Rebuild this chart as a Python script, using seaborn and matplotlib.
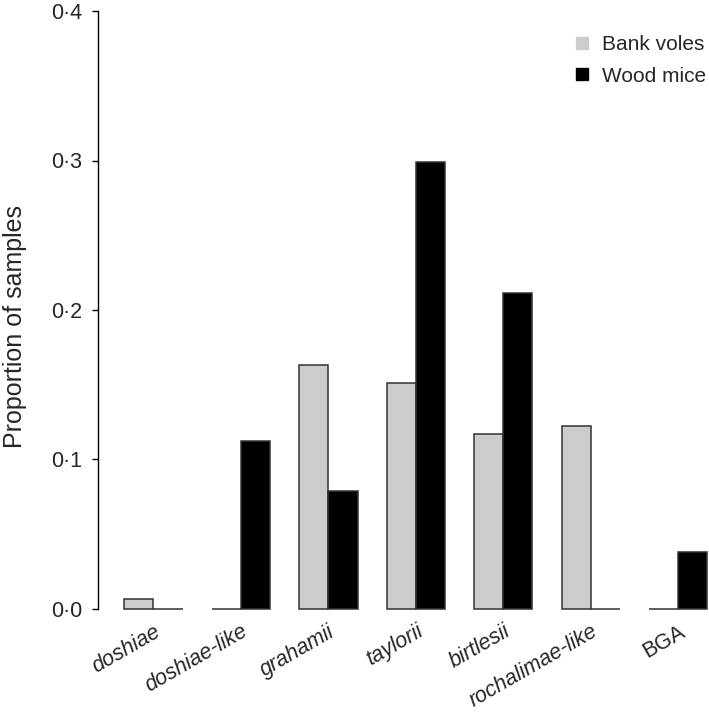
import pandas as pd
import seaborn as sns
import matplotlib.pyplot as plt
from matplotlib.lines import Line2D

species = ['doshiae', 'doshiae-like', 'grahamii', 'taylorii', 'birtlesii', 'rochalimae-like', 'BGA']
bank_voles = [0.0065, 0.0, 0.163, 0.151, 0.117, 0.1225, 0.0]
wood_mice = [0.0, 0.112, 0.079, 0.299, 0.211, 0.0, 0.038]
hosts = ['Bank voles', 'Wood mice']
colors = {'Bank voles': '#cccccc', 'Wood mice': '#000000'}
yticks = [0.0, 0.1, 0.2, 0.3, 0.4]

df = pd.DataFrame({
    'species': species * 2,
    'host': [hosts[0]] * len(species) + [hosts[1]] * len(species),
    'prop': bank_voles + wood_mice,
})

sns.set_style('white')
plt.rcParams['font.family'] = ['Liberation Sans', 'DejaVu Sans']

fig = plt.figure(figsize=(7.09, 7.22), dpi=100)
ax = fig.add_axes([98 / 709, (722 - 608.7) / 722, 610 / 709, 597.6 / 722])

sns.barplot(data=df, x='species', y='prop', hue='host', palette=colors,
            width=2 / 3, gap=0, errorbar=None, edgecolor='#333333',
            linewidth=1.1, saturation=1, legend=False, ax=ax)
for p in ax.patches:
    p.set_clip_on(False)

ax.set_xlim(-0.634, 6.34)
ax.set_ylim(0, 0.4)
ax.set_yticks(yticks)
ax.set_yticklabels([f'{v:.1f}'.replace('.', '\u00b7') for v in yticks], fontsize=15.5)
ax.tick_params(axis='y', direction='out', length=4, width=1, pad=7.5, left=True, color='black')
ax.tick_params(axis='x', length=0, pad=9)

for spine in ['top', 'right', 'bottom']:
    ax.spines[spine].set_visible(False)
ax.spines['left'].set_color('black')
ax.spines['left'].set_linewidth(1)

for lab in ax.get_xticklabels():
    lab.set_rotation(30)
    lab.set_ha('right')
    lab.set_rotation_mode('anchor')
    lab.set_fontsize(15.5)
    if lab.get_text() != 'BGA':
        lab.set_style('italic')

ax.set_xlabel('')
ax.set_ylabel('')
fig.text(15 / 709, 1 - 326 / 722, 'Proportion of samples', rotation=90,
         ha='center', va='center', fontsize=18)

handles = [Line2D([], [], marker='s', linestyle='none', markersize=8,
                  markerfacecolor=colors[h], markeredgecolor=colors[h]) for h in hosts]
fig.legend(handles, hosts, loc='upper right', bbox_to_anchor=(706 / 709, 1 - 35 / 722),
           frameon=False, fontsize=15, handletextpad=0.45, labelspacing=0.6,
           borderaxespad=0, borderpad=0, handlelength=1.0)

fig.savefig('out.png', dpi=100)
